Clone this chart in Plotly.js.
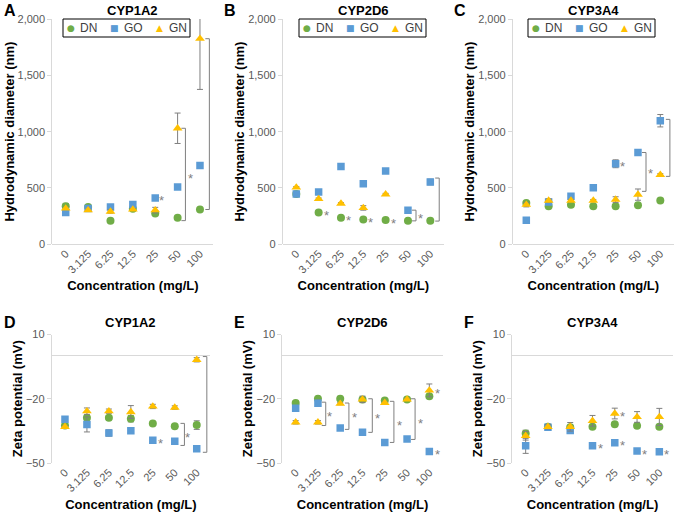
<!DOCTYPE html>
<html><head><meta charset="utf-8">
<script src="https://cdn.plot.ly/plotly-3.0.1.min.js"></script>
<style>html,body{margin:0;padding:0;background:#fff}#chart{width:676px;height:513px}</style>
</head><body><div id="chart"></div>
<script>
// ---------- DATA ----------
const concentrations = ['0', '3.125', '6.25', '12.5', '25', '50', '100'];
const seriesNames = ['DN', 'GO', 'GN'];

// A: CYP1A2 hydrodynamic diameter (nm)
const A_DN = [338, 332, 208, 315, 274, 235, 309];
const A_DN_err = [25, 10, 8, 8, 10, 8, 10];
const A_GO = [283, 318, 332, 353, 412, 509, 700];
const A_GO_err = [8, 8, 8, 8, 8, 20, 8];
const A_GN = [318, 303, 291, 309, 303, 1030, 1825];
const A_GN_err = [10, 8, 15, 8, 25, 135, 450];

// B: CYP2D6 hydrodynamic diameter (nm)
const B_DN = [447, 283, 235, 221, 215, 208, 208];
const B_DN_err = [5, 15, 8, 5, 5, 5, 5];
const B_GO = [447, 465, 691, 538, 650, 303, 553];
const B_GO_err = [8, 8, 8, 8, 8, 8, 25];
const B_GN = [505, 403, 362, 323, 444, null, null];
const B_GN_err = [8, 8, 8, 20, 8, 0, 0];

// C: CYP3A4 hydrodynamic diameter (nm)
const C_DN = [367, 338, 352, 338, 338, 347, 388];
const C_DN_err = [8, 8, 8, 8, 8, 8, 8];
const C_GO = [214, 375, 426, 503, 715, 815, 1097];
const C_GO_err = [8, 8, 8, 8, 35, 8, 55];
const C_GN = [352, 388, 388, 388, 397, 441, 617];
const C_GN_err = [20, 15, 10, 10, 25, 50, 10];

// D: CYP1A2 zeta potential (mV)
const D_DN = [-32.5, -28.9, -28.9, -29.3, -31.5, -32.8, -32.3];
const D_DN_err = [0.5, 1, 0.8, 1.5, 0.5, 0.5, 2];
const D_GO = [-29.6, -32, -36, -34.9, -39.4, -39.8, -43.4];
const D_GO_err = [0.5, 3.5, 1.5, 1, 0.5, 1, 0.3];
const D_GN = [-33.1, -25.8, -25.8, -26.2, -23.6, -24.1, -1.8];
const D_GN_err = [0.5, 1.5, 1, 3, 1, 0.8, 1];

// E: CYP2D6 zeta potential (mV)
const E_DN = [-22.0, -20.0, -20.0, -20.3, -20.8, -20.3, -18.8];
const E_DN_err = [0.5, 0.5, 0.5, 0.5, 0.5, 0.5, 0.5];
const E_GO = [-24.4, -22.1, -33.6, -35.7, -40.4, -38.8, -44.6];
const E_GO_err = [0.5, 1.5, 0.5, 0.5, 0.5, 1, 0.3];
const E_GN = [-31.0, -31.0, -22.3, -20.3, -21.9, -20.3, -16.1];
const E_GN_err = [0.8, 0.8, 0.5, 1.5, 0.5, 0.5, 3];

// F: CYP3A4 zeta potential (mV)
const F_DN = [-36.2, -33.1, -33.3, -33.1, -31.9, -32.6, -33.1];
const F_DN_err = [1.5, 0.5, 0.5, 0.5, 0.5, 0.5, 0.5];
const F_GO = [-42.0, -33.3, -34.8, -42.0, -40.5, -44.4, -44.7];
const F_GO_err = [3.5, 0.5, 0.5, 0.3, 0.3, 0.3, 0.3];
const F_GN = [-37.3, -33.1, -33.1, -30.3, -26.9, -28.5, -28.5];
const F_GN_err = [2, 1, 2, 2.5, 2.5, 2.5, 4];

// significance brackets: [category position, upper value, lower value]
const A_brackets = [[5.35, 1030, 210], [6.42, 1825, 309]];
const B_brackets = [[5.36, 303, 208], [6.40, 588, 206]];
const C_brackets = [[5.36, 815, 470], [6.43, 1109, 603]];
const D_brackets = [[5.44, -31.5, -41.8], [6.46, -0.3, -45]];
const E_brackets = [[1.35, -21.6, -32.5], [2.39, -22, -34.3], [3.44, -20, -35.7], [4.41, -21.2, -40.4], [5.36, -20, -39]];
const F_brackets = [];

// asterisks: [category position, value]
const A_stars = [[4.3, 412], [5.58, 612], [6.67, 1070]];
const B_stars = [[1.33, 283], [2.33, 235], [3.33, 221], [4.33, 215], [5.57, 252], [6.61, 397]];
const C_stars = [[4.31, 715], [5.58, 653], [6.61, 867]];
const D_stars = [[4.33, -39.4], [5.59, -36.6], [6.89, -22.8]];
const E_stars = [[1.54, -26.9], [2.63, -27.5], [3.66, -28], [4.64, -31.3], [5.61, -30.2], [6.36, -16], [6.36, -44.6]];
const F_stars = [[3.34, -42], [4.34, -40.5], [4.34, -26.9], [5.35, -44.4], [6.32, -44.7]];

// ---------- LAYOUT / STYLE ----------
const W = 676, H = 513;
const fx = p => p / W;
const fy = p => 1 - p / H;
const FONT = 'Arial, "Liberation Sans", sans-serif';
const COLORS = {DN: '#70ad47', GO: '#5b9bd5', GN: '#ffc000'};
const SYMBOLS = {DN: 'circle', GO: 'square', GN: 'triangle-up'};
const GLYPHS = {DN: '\u25CF', GO: '\u25A0', GN: '\u25B2'};
const GLYPH_SIZE = {DN: 9, GO: 9, GN: 9};
const SIZES = {DN: 8, GO: 7.5, GN: 8.5};
const GRAY = '#d9d9d9';
const SIGCOL = '#7f7f7f';

const panels = [
  {letter: 'A', title: 'CYP1A2', row: 0, xd: [52.3, 213.4], data: {DN: [A_DN, A_DN_err], GO: [A_GO, A_GO_err], GN: [A_GN, A_GN_err]}, br: A_brackets, st: A_stars, lx: 63, letterX: 2},
  {letter: 'B', title: 'CYP2D6', row: 0, xd: [282.9, 443.7], data: {DN: [B_DN, B_DN_err], GO: [B_GO, B_GO_err], GN: [B_GN, B_GN_err]}, br: B_brackets, st: B_stars, lx: 299, letterX: 222},
  {letter: 'C', title: 'CYP3A4', row: 0, xd: [512.9, 673.7], data: {DN: [C_DN, C_DN_err], GO: [C_GO, C_GO_err], GN: [C_GN, C_GN_err]}, br: C_brackets, st: C_stars, lx: 528, letterX: 452},
  {letter: 'D', title: 'CYP1A2', row: 1, xd: [51.8, 209.9], data: {DN: [D_DN, D_DN_err], GO: [D_GO, D_GO_err], GN: [D_GN, D_GN_err]}, br: D_brackets, st: D_stars, letterX: 2},
  {letter: 'E', title: 'CYP2D6', row: 1, xd: [282.3, 442.7], data: {DN: [E_DN, E_DN_err], GO: [E_GO, E_GO_err], GN: [E_GN, E_GN_err]}, br: E_brackets, st: E_stars, letterX: 232},
  {letter: 'F', title: 'CYP3A4', row: 1, xd: [512.3, 672.7], data: {DN: [F_DN, F_DN_err], GO: [F_GO, F_GO_err], GN: [F_GN, F_GN_err]}, br: F_brackets, st: F_stars, letterX: 462}
];

const rows = [
  {yd: [244.3, 19], range: [0, 2000], tickvals: [0, 500, 1000, 1500, 2000], ytitle: 'Hydrodynamic diameter (nm)', titleY: 10, standoff: 0},
  {yd: [463, 334.5], range: [-50, 10], tickvals: [-50, -20, 10], ytitle: 'Zeta potential (mV)', titleY: 322, standoff: 0}
];

const traces = [];
const layout = {
  width: W, height: H,
  margin: {l: 0, r: 0, t: 0, b: 0},
  paper_bgcolor: '#fff', plot_bgcolor: '#fff',
  font: {family: FONT, color: '#404040'},
  showlegend: false,
  shapes: [], annotations: []
};

// legend item offsets inside the box (px)
const LEG_W = 127, LEG_TOP = 19, LEG_BOT = 37;
const LEG_SYM = [8, 51, 96];
const LEG_TXT = [15, 59, 104];

panels.forEach((p, i) => {
  const sfx = i === 0 ? '' : String(i + 1);
  const r = rows[p.row];
  seriesNames.forEach(s => {
    traces.push({
      type: 'scatter', mode: 'markers', name: s,
      x: concentrations, y: p.data[s][0],
      error_y: {type: 'data', array: p.data[s][1], visible: true, color: SIGCOL, thickness: 1, width: 3},
      marker: {color: COLORS[s], symbol: SYMBOLS[s], size: SIZES[s]},
      xaxis: 'x' + sfx, yaxis: 'y' + sfx,
      showlegend: false, hoverinfo: 'skip'
    });
  });
  layout['xaxis' + sfx] = {
    domain: [fx(p.xd[0]), fx(p.xd[1])], anchor: 'y' + sfx,
    type: 'category', categoryarray: concentrations, categoryorder: 'array',
    range: [-0.6, 6.6], tickangle: -45,
    tickfont: {size: 11, color: '#595959', family: FONT},
    showline: false, showgrid: false, zeroline: false, ticks: '',
    title: {text: '<b>Concentration (mg/L)</b>', font: {size: 13, color: '#000', family: FONT}, standoff: 6},
    fixedrange: true
  };
  layout['yaxis' + sfx] = {
    domain: [fy(r.yd[0]), fy(r.yd[1])], anchor: 'x' + sfx,
    range: r.range, tickvals: r.tickvals, tickformat: ',',
    showline: true, linecolor: GRAY, linewidth: 1,
    ticks: 'outside', ticklen: 4, tickcolor: GRAY,
    showgrid: false, zeroline: true, zerolinecolor: GRAY, zerolinewidth: 1,
    tickfont: {size: 11, color: '#595959', family: FONT},
    title: {text: '<b>' + r.ytitle + '</b>', font: {size: 13, color: '#000', family: FONT}, standoff: r.standoff},
    fixedrange: true
  };
  // legend box (top row only)
  if (p.lx !== undefined) {
    layout.shapes.push({type: 'rect', xref: 'paper', yref: 'paper',
      x0: fx(p.lx), x1: fx(p.lx + LEG_W), y0: fy(LEG_BOT), y1: fy(LEG_TOP),
      line: {color: '#000', width: 1}, fillcolor: '#fff', layer: 'above'});
    const cy = fy((LEG_TOP + LEG_BOT) / 2);
    seriesNames.forEach((s, k) => {
      layout.annotations.push({xref: 'paper', yref: 'paper', x: fx(p.lx + LEG_SYM[k]), y: cy,
        text: '<span style="color:' + COLORS[s] + '">' + GLYPHS[s] + '</span>', showarrow: false,
        xanchor: 'center', yanchor: 'middle', font: {size: GLYPH_SIZE[s], family: '"DejaVu Sans", sans-serif', color: COLORS[s]}});
      layout.annotations.push({xref: 'paper', yref: 'paper', x: fx(p.lx + LEG_TXT[k]), y: cy,
        text: s, showarrow: false, xanchor: 'left', yanchor: 'middle',
        font: {size: 12, family: FONT, color: '#404040'}});
    });
  }
  // brackets
  p.br.forEach(b => {
    const [bx, y1, y2] = b;
    const base = {type: 'line', xref: 'x' + sfx, yref: 'y' + sfx, line: {color: SIGCOL, width: 1}};
    layout.shapes.push(Object.assign({}, base, {x0: bx, x1: bx, y0: y1, y1: y2}));
    layout.shapes.push(Object.assign({}, base, {x0: bx - 0.18, x1: bx, y0: y1, y1: y1}));
    layout.shapes.push(Object.assign({}, base, {x0: bx - 0.18, x1: bx, y0: y2, y1: y2}));
  });
  p.st.forEach(s => {
    layout.annotations.push({xref: 'x' + sfx, yref: 'y' + sfx, x: s[0], y: s[1], text: '*', showarrow: false,
      font: {size: 13, color: SIGCOL, family: FONT}, xanchor: 'center', yanchor: 'middle', yshift: -3});
  });
  // subplot title
  layout.annotations.push({xref: 'paper', yref: 'paper', x: fx((p.xd[0] + p.xd[1]) / 2), y: fy(r.titleY),
    text: '<b>' + p.title + '</b>', showarrow: false, xanchor: 'center', yanchor: 'middle',
    font: {size: 13, color: '#000', family: FONT}});
  // panel letter
  layout.annotations.push({xref: 'paper', yref: 'paper', x: fx(p.letterX), y: fy(r.titleY),
    text: '<b>' + p.letter + '</b>', showarrow: false, xanchor: 'left', yanchor: 'middle',
    font: {size: 16, color: '#000', family: FONT}});
});

Plotly.newPlot('chart', traces, layout, {staticPlot: true, displayModeBar: false});
</script>
</body></html>
